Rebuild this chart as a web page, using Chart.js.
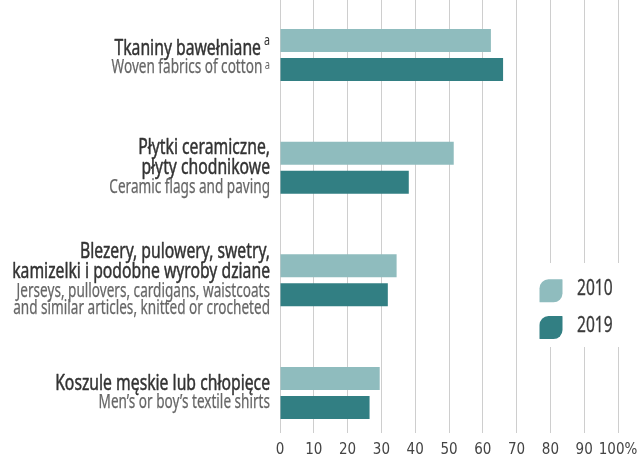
<!DOCTYPE html>
<html>
<head>
<meta charset="utf-8">
<script src="https://cdn.jsdelivr.net/npm/chart.js@4/dist/chart.umd.min.js"></script>
<style>
  html, body { margin: 0; padding: 0; background: #fff; }
  #wrap { width: 640px; height: 457px; }
</style>
</head>
<body>
<div id="wrap"><canvas id="chart" width="640" height="457"></canvas></div>
<script>
// Product groups: Polish name lines, English name lines, footnote marker
const namesPl = [
  ['Tkaniny bawełniane'],
  ['Płytki ceramiczne,', 'płyty chodnikowe'],
  ['Blezery, pulowery, swetry,', 'kamizelki i podobne wyroby dziane'],
  ['Koszule męskie lub chłopięce']
];
const namesEn = [
  ['Woven fabrics of cotton'],
  ['Ceramic flags and paving'],
  ['Jerseys, pullovers, cardigans, waistcoats', 'and similar articles, knitted or crocheted'],
  ['Men’s or boy’s textile shirts']
];
const footnotes = ['a', '', '', ''];

// Share in percent, by year
const years = ['2010', '2019'];
const share2010 = [62.4, 51.4, 34.5, 29.5];
const share2019 = [66.0, 38.1, 31.9, 26.5];

const xTickLabels = ['0', '10', '20', '30', '40', '50', '60', '70', '80', '90', '100%'];

const COLOR_2010 = '#8fbcbe';
const COLOR_2019 = '#327f83';
const FAMILY = '"Noto Sans", sans-serif';
const SQUEEZE = 0.715;

// Draws one line of text horizontally condensed, right-aligned at xr
function drawLine(ctx, text, sup, xr, y, font, supFont, supRise, supGap, color, weight) {
  ctx.save();
  ctx.font = font;
  const w = ctx.measureText(text).width * SQUEEZE;
  let sw = 0;
  if (sup) {
    ctx.font = supFont;
    sw = ctx.measureText(sup).width * SQUEEZE + supGap;
  }
  const x0 = xr - w - sw;
  ctx.fillStyle = color;
  ctx.strokeStyle = color;
  ctx.lineWidth = weight;
  ctx.lineJoin = 'round';
  ctx.textBaseline = 'alphabetic';
  ctx.textAlign = 'left';
  ctx.font = font;
  ctx.translate(x0, y);
  ctx.scale(SQUEEZE, 1);
  ctx.fillText(text, 0, 0);
  if (weight > 0) ctx.strokeText(text, 0, 0);
  if (sup) {
    ctx.font = supFont;
    ctx.fillText(sup, (w + supGap) / SQUEEZE, -supRise);
  }
  ctx.restore();
}

// Category names to the left of the bars, centred on each group
const groupLabels = {
  id: 'groupLabels',
  afterDraw(chart) {
    const ctx = chart.ctx;
    const yScale = chart.scales.y;
    const right = 270;
    namesPl.forEach((pl, i) => {
      const lines = [];
      pl.forEach((t, k) => lines.push({ t, kind: 'pl', sup: k === pl.length - 1 ? footnotes[i] : '' }));
      namesEn[i].forEach((t, k) => lines.push({ t, kind: 'en', sup: k === namesEn[i].length - 1 ? footnotes[i] : '' }));
      // baselines relative to the first one
      const offs = [0];
      for (let k = 1; k < lines.length; k++) {
        const a = lines[k - 1].kind, b = lines[k].kind;
        const gap = a === 'pl' && b === 'pl' ? 20 : (a === 'pl' ? 18.5 : 17.5);
        offs.push(offs[k - 1] + gap);
      }
      const top = lines[0].sup ? -22 : -15.7;
      const last = lines[lines.length - 1];
      const bottom = offs[offs.length - 1] + (last.kind === 'en' ? 4 : 5);
      const c = yScale.getPixelForValue(i);
      const b0 = c - (top + bottom) / 2;
      lines.forEach((ln, k) => {
        if (ln.kind === 'pl') {
          drawLine(ctx, ln.t, ln.sup, right, b0 + offs[k], '22px ' + FAMILY, '15px ' + FAMILY, 10, 3, '#333333', 0.5);
        } else {
          drawLine(ctx, ln.t, ln.sup, right, b0 + offs[k], '19px ' + FAMILY, '13px ' + FAMILY, 4, 2.5, '#666666', 0.25);
        }
      });
    });
  }
};

// Legend box with leaf-shaped swatches
const leafLegend = {
  id: 'leafLegend',
  afterDraw(chart) {
    const ctx = chart.ctx;
    ctx.save();
    ctx.fillStyle = '#ffffff';
    ctx.fillRect(524, 263, 116, 84);
    chart.data.datasets.forEach((ds, i) => {
      const x = 539.5, y = 279.3 + i * 36.8, s = 23;
      ctx.fillStyle = ds.backgroundColor;
      ctx.beginPath();
      ctx.roundRect(x, y, s, s, [9, 0.5, 9, 0.5]);
      ctx.fill();
      ctx.fillStyle = '#3b3b3b';
      ctx.strokeStyle = '#3b3b3b';
      ctx.lineWidth = 0.3;
      ctx.font = '21px ' + FAMILY;
      ctx.textBaseline = 'middle';
      ctx.textAlign = 'left';
      ctx.save();
      ctx.translate(577, y + 10);
      ctx.scale(0.74, 1);
      ctx.fillText(ds.label, 0, 0);
      ctx.strokeText(ds.label, 0, 0);
      ctx.restore();
    });
    ctx.restore();
  }
};

new Chart(document.getElementById('chart'), {
  type: 'bar',
  data: {
    datasets: [
      {
        label: years[0],
        data: share2010.map((v, i) => ({ x: v, y: i })),
        backgroundColor: COLOR_2010,
        categoryPercentage: 0.515,
        barPercentage: 0.793
      },
      {
        label: years[1],
        data: share2019.map((v, i) => ({ x: v, y: i })),
        backgroundColor: COLOR_2019,
        categoryPercentage: 0.515,
        barPercentage: 0.793
      }
    ]
  },
  options: {
    indexAxis: 'y',
    responsive: false,
    animation: false,
    devicePixelRatio: 1,
    layout: { padding: { left: 280, right: 22, top: 0, bottom: 0 } },
    plugins: {
      legend: { display: false },
      tooltip: { enabled: false }
    },
    scales: {
      x: {
        type: 'linear',
        min: 0,
        max: 100,
        border: { display: false },
        grid: { color: '#cecece', lineWidth: 1, tickLength: 8 },
        ticks: {
          stepSize: 10,
          padding: 8,
          autoSkip: false,
          maxRotation: 0,
          minRotation: 0,
          color: '#444444',
          font: { family: '"DejaVu Sans Condensed", "Liberation Sans Narrow", "Noto Sans", sans-serif', size: 15 },
          callback: (v, i) => xTickLabels[i]
        },
        // fixed axis band under the plot; side overhang is covered by the layout padding
        afterFit: (scale) => {
          scale.height = 32;
          scale.paddingLeft = 0;
          scale.paddingRight = 0;
        }
      },
      y: {
        type: 'linear',
        reverse: true,
        bounds: 'data',
        offset: false,
        min: -0.488,
        max: 3.284,
        display: false,
        // one tick per product group
        afterBuildTicks: (scale) => {
          scale.ticks = namesPl.map((_, i) => ({ value: i }));
        }
      }
    }
  },
  plugins: [groupLabels, leafLegend]
});
</script>
</body>
</html>
